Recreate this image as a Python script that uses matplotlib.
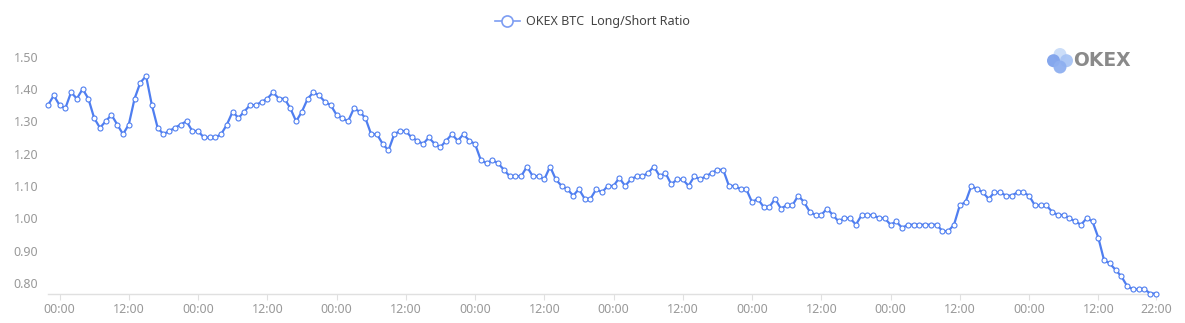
import matplotlib
matplotlib.use("Agg")
import matplotlib.pyplot as plt
from matplotlib.patches import Circle
from matplotlib.lines import Line2D

# hourly long/short ratio, first point is 22:00 the day before the first 00:00 tick
ratio = [
    1.35, 1.38, 1.35, 1.34, 1.39, 1.37, 1.40, 1.37, 1.31, 1.28,
    1.30, 1.32, 1.29, 1.26, 1.29, 1.37, 1.42, 1.44, 1.35, 1.28,
    1.26, 1.27, 1.28, 1.29, 1.30, 1.27, 1.27, 1.25, 1.25, 1.25,
    1.26, 1.29, 1.33, 1.31, 1.33, 1.35, 1.35, 1.36, 1.37, 1.39,
    1.37, 1.37, 1.34, 1.30, 1.33, 1.37, 1.39, 1.38, 1.36, 1.35,
    1.32, 1.31, 1.30, 1.34, 1.33, 1.31, 1.26, 1.26, 1.23, 1.21,
    1.26, 1.27, 1.27, 1.25, 1.24, 1.23, 1.25, 1.23, 1.22, 1.24,
    1.26, 1.24, 1.26, 1.24, 1.23, 1.18, 1.17, 1.18, 1.17, 1.15,
    1.13, 1.13, 1.13, 1.16, 1.13, 1.13, 1.12, 1.16, 1.12, 1.10,
    1.09, 1.07, 1.09, 1.06, 1.06, 1.09, 1.08, 1.10, 1.10, 1.125,
    1.10, 1.12, 1.13, 1.13, 1.14, 1.16, 1.13, 1.14, 1.105, 1.12,
    1.12, 1.10, 1.13, 1.12, 1.13, 1.14, 1.15, 1.15, 1.10, 1.10,
    1.09, 1.09, 1.05, 1.06, 1.035, 1.035, 1.06, 1.03, 1.04, 1.04,
    1.07, 1.05, 1.02, 1.01, 1.01, 1.03, 1.01, 0.99, 1.00, 1.00,
    0.98, 1.01, 1.01, 1.01, 1.00, 1.00, 0.98, 0.99, 0.97, 0.98,
    0.98, 0.98, 0.98, 0.98, 0.98, 0.96, 0.96, 0.98, 1.04, 1.05,
    1.10, 1.09, 1.08, 1.06, 1.08, 1.08, 1.07, 1.07, 1.08, 1.08,
    1.07, 1.04, 1.04, 1.04, 1.02, 1.01, 1.01, 1.00, 0.99, 0.98,
    1.00, 0.99, 0.94, 0.87, 0.86, 0.84, 0.82, 0.79, 0.78, 0.78,
    0.78, 0.767, 0.767,
]
hours = list(range(len(ratio)))

tick_hours = [2 + 12 * i for i in range(16)] + [192]
tick_labels = ["00:00", "12:00"] * 8 + ["22:00"]
y_ticks = [0.80, 0.90, 1.00, 1.10, 1.20, 1.30, 1.40, 1.50]

blue = "#4f7ef0"
grey = "#999999"

fig = plt.figure(figsize=(11.85, 3.23), dpi=100)
ax = fig.add_axes([48 / 1185, 1 - 293.5 / 323, (1156 - 48) / 1185, (293.5 - 56.7) / 323])

ax.plot(hours, ratio, color=blue, lw=1.6, marker="o", ms=3.6,
        mfc="white", mec=blue, mew=0.8, zorder=3, clip_on=False)

ax.set_xlim(0, hours[-1])
ax.set_ylim(min(ratio), 1.50)
ax.set_xticks(tick_hours)
ax.set_xticklabels(tick_labels)
ax.set_yticks(y_ticks)
ax.set_yticklabels(["%.2f" % v for v in y_ticks])

for side in ["top", "right", "left"]:
    ax.spines[side].set_visible(False)
ax.spines["bottom"].set_color("#e0e0e0")
ax.spines["bottom"].set_linewidth(1.0)
ax.tick_params(axis="x", colors="#e0e0e0", labelcolor=grey, length=4,
               labelsize=9, pad=3)
ax.tick_params(axis="y", length=0, labelcolor=grey, labelsize=9, pad=7)
for lab in ax.get_xticklabels() + ax.get_yticklabels():
    lab.set_family("Noto Sans")

# legend at top
handle = Line2D([], [], color="#7d9df2", lw=1.2, marker="o", ms=8,
                mfc="white", mec="#7d9df2", mew=1.2)
leg = fig.legend([handle], ["OKEX BTC  Long/Short Ratio"], loc="center",
                 bbox_to_anchor=(0.5, 1 - 22 / 323), frameon=False,
                 handlelength=2.0, handletextpad=0.5,
                 prop={"family": "Noto Sans", "size": 9})
for t in leg.get_texts():
    t.set_color("#444444")

# OKEX logo, top right
px = fig.dpi_scale_trans
def pix(x, y):
    return (x / 100, (323 - y) / 100)

for (cx, cy), col in [((1060, 54.5), "#c9dcf8"), ((1053.5, 60.7), "#7fa2ec"),
                      ((1066.5, 60.7), "#a8c4f5"), ((1060, 67), "#8eaff0")]:
    fig.add_artist(Circle(pix(cx, cy), 6.5 / 100, transform=px,
                          color=col, alpha=0.95, lw=0))
fig.text(1073 / 1185, 1 - 61 / 323, "OKEX", color="#8a8a8a", fontsize=13.5,
         fontweight="bold", family="DejaVu Sans", va="center", ha="left")

fig.savefig("out.png", dpi=100)
